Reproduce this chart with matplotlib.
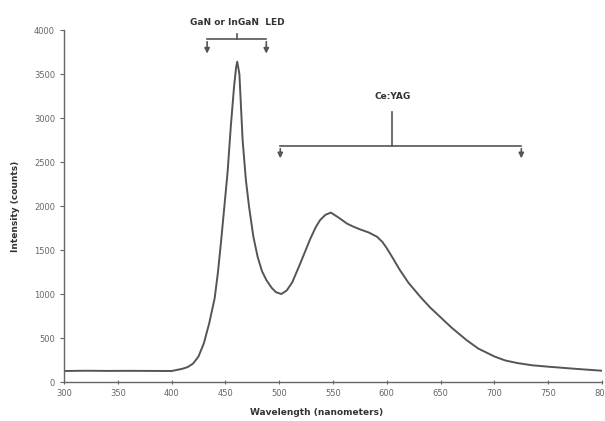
import numpy as np
import matplotlib.pyplot as plt

# spectrum (nm, counts)
wavelength = [300, 320, 340, 360, 380, 400, 410, 415, 420, 425, 430, 435, 440, 443,
              446, 449, 452, 455, 458, 460, 461, 463, 466, 469, 472, 476, 480, 484,
              488, 493, 497, 502, 507, 512, 519, 524, 529, 534, 538, 543, 548, 555,
              563, 569, 575, 583, 591, 596, 600, 606, 612, 620, 631, 640, 650, 660,
              674, 685, 700, 710, 721, 735, 750, 775, 800]
intensity = [125, 128, 126, 127, 126, 125, 150, 170, 210, 290, 440, 670, 950, 1240,
             1600, 1990, 2380, 2900, 3350, 3580, 3640, 3500, 2750, 2300, 1990, 1650, 1420, 1260,
             1160, 1070, 1020, 1000, 1040, 1130, 1330, 1480, 1630, 1760, 1840, 1900, 1925, 1870,
             1800, 1765, 1735, 1700, 1650, 1590, 1520, 1400, 1275, 1130, 970, 850, 735, 620,
             477, 380, 290, 245, 216, 190, 174, 150, 128]

x_ticks = [300, 350, 400, 450, 500, 550, 600, 650, 700, 750, 800]
y_ticks = [0, 500, 1000, 1500, 2000, 2500, 3000, 3500, 4000]

led_label = "GaN or InGaN  LED"
yag_label = "Ce:YAG"

fig = plt.figure(figsize=(6.05, 4.21), dpi=100)
ax = fig.add_axes([64 / 605, 39 / 421, 538 / 605, 352 / 421])

ax.plot(wavelength, intensity, color='#555555', linewidth=1.4)

ax.set_xlim(300, 800)
ax.set_ylim(0, 4000)
ax.set_xticks(x_ticks)
ax.set_yticks(y_ticks)
ax.tick_params(axis='both', labelsize=6, colors='#666666', length=3, width=0.8)
ax.tick_params(axis='x', direction='inout')
for s in ['top', 'right']:
    ax.spines[s].set_visible(False)
for s in ['left', 'bottom']:
    ax.spines[s].set_color('#666666')
    ax.spines[s].set_linewidth(1.0)

ax.set_xlabel('Wavelength (nanometers)', fontsize=6.5, fontweight='bold', color='#333333', labelpad=3)
ax.set_ylabel('Intensity (counts)', fontsize=6.5, fontweight='bold', color='#333333', labelpad=10)
ax.xaxis.set_label_coords(0.47, -0.075)

# brackets
bk = dict(color='#555555', linewidth=1.2, clip_on=False)
arr = dict(arrowstyle='-|>,head_length=0.3,head_width=0.15', color='#555555', lw=1.2)

# LED bracket
ax.plot([433, 488], [3898, 3898], **bk)
ax.plot([461, 461], [3898, 3960], **bk)
for xe in [433, 488]:
    ax.annotate('', xy=(xe, 3700), xytext=(xe, 3898), arrowprops=arr, annotation_clip=False)
ax.text(461, 4080, led_label, ha='center', va='center', fontsize=6.5, fontweight='bold', color='#333333')

# Ce:YAG bracket
ax.plot([501, 725], [2682, 2682], **bk)
ax.plot([605, 605], [2682, 3070], **bk)
for xe in [501, 725]:
    ax.annotate('', xy=(xe, 2510), xytext=(xe, 2682), arrowprops=arr, annotation_clip=False)
ax.text(605, 3240, yag_label, ha='center', va='center', fontsize=6.5, fontweight='bold', color='#333333')

fig.savefig('out.png', dpi=100)
